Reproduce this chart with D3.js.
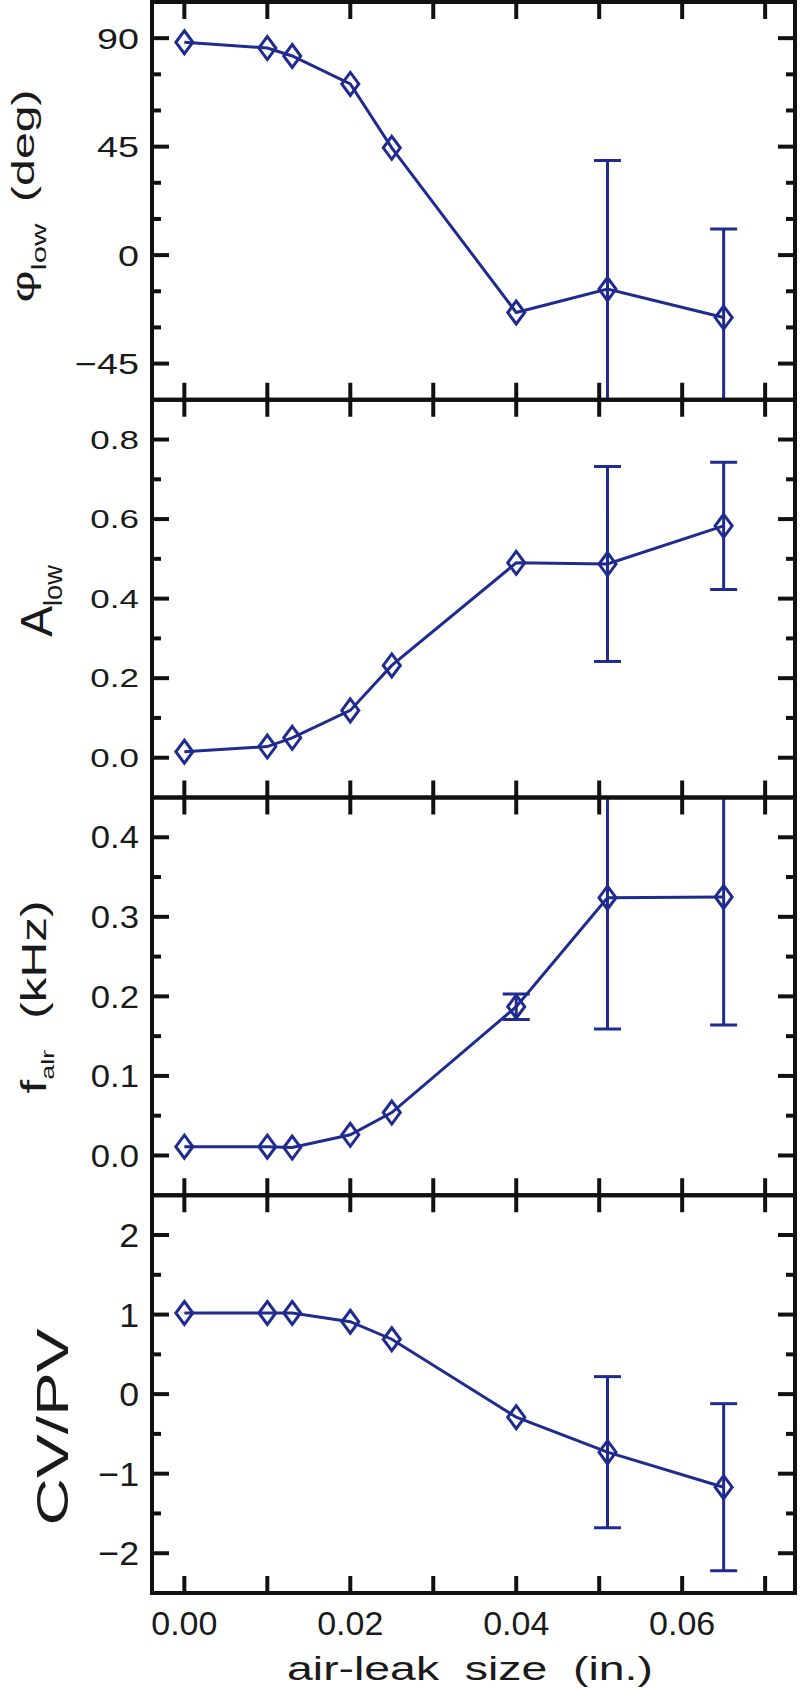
<!DOCTYPE html>
<html>
<head>
<meta charset="utf-8">
<script src="https://cdn.jsdelivr.net/npm/d3@7"></script>
<style>
	body { margin: 0; background: #fff; }
	svg { display: block; }
	text { font-family: "Liberation Sans", Arial, sans-serif; fill: #1a1a1a; }
</style>
</head>
<body>
<svg id="chart" width="800" height="1688"></svg>
<script>
const width = 800,
	height = 1688;

const plotLeft = 152,
	plotRight = 795,
	plotTop = 2,
	panelH = 397.75;

const navy = "#1f2b8f";

// air-leak size (in.)
const leakSize = [0, 0.010, 0.013, 0.020, 0.025, 0.040, 0.051, 0.065];

// phase of low-frequency component (deg)
const phiLow = [88.3, 85.9, 82.6, 71.0, 44.5, -23.8, -14.1, -25.9];
const phiLowErr = [null, null, null, null, null, null, 53.3, 36.7];

// amplitude of low-frequency component
const aLow = [0.015, 0.028, 0.050, 0.119, 0.232, 0.490, 0.487, 0.583];
const aLowErr = [null, null, null, null, null, null, 0.245, 0.160];

// f_alr (kHz)
const fAlr = [0.011, 0.011, 0.010, 0.026, 0.054, 0.187, 0.324, 0.325];
const fAlrErr = [null, null, null, null, null, 0.016, 0.165, 0.161];

// CV/PV
const cvPv = [1.02, 1.02, 1.02, 0.91, 0.69, -0.29, -0.73, -1.17];
const cvPvErr = [null, null, null, null, null, null, 0.95, 1.05];

const xTicks = [0, 0.01, 0.02, 0.03, 0.04, 0.05, 0.06, 0.07];
const xTickLabels = [0, 0.02, 0.04, 0.06];

const phiTicks = [-45, 0, 45, 90],
	phiMinor = [-30, -15, 15, 30, 60, 75];
const aTicks = [0, 0.2, 0.4, 0.6, 0.8],
	aMinor = [0.1, 0.3, 0.5, 0.7];
const fTicks = [0, 0.1, 0.2, 0.3, 0.4],
	fMinor = [0.05, 0.15, 0.25, 0.35];
const cvTicks = [-2, -1, 0, 1, 2],
	cvMinor = [-1.5, -0.5, 0.5, 1.5];

const panels = [
	{values: phiLow, errors: phiLowErr, domain: [-60, 105], ticks: phiTicks, minor: phiMinor, fmt: d3.format("d"),
		tickSize: 29, tickK: 1.3,
		title: [{t: "φ", size: 32}, {t: "low", size: 20, dy: 12}, {t: "(deg)", size: 31, dy: -12, dx: 14}],
		titleX: 34, titleY: 196, titleLen: 213},
	{values: aLow, errors: aLowErr, domain: [-0.1, 0.9], ticks: aTicks, minor: aMinor, fmt: d3.format(".1f"),
		tickSize: 25, tickK: 1.4,
		title: [{t: "A", size: 44}, {t: "low", size: 26, dy: 10}],
		titleX: 52, titleY: 601, titleLen: 72},
	{values: fAlr, errors: fAlrErr, domain: [-0.05, 0.45], ticks: fTicks, minor: fMinor, fmt: d3.format(".1f"),
		tickSize: 31, tickK: 1.12,
		title: [{t: "f", size: 35}, {t: "alr", size: 19, dy: 8}, {t: "(kHz)", size: 35, dy: -8, dx: 22}],
		titleX: 46, titleY: 997, titleLen: 193},
	{values: cvPv, errors: cvPvErr, domain: [-2.5, 2.5], ticks: cvTicks, minor: cvMinor, fmt: d3.format("d"),
		tickSize: 34, tickK: 1.05,
		title: [{t: "CV/PV", size: 45}],
		titleX: 68, titleY: 1427, titleLen: 197}
];

const xScale = d3.scaleLinear()
	.domain([-0.0039, 0.0736])
	.range([plotLeft, plotRight]);

const chart = d3.select("#chart");
const defs = chart.append("defs");

const diamond = "M0,-11.5L8.5,0L0,11.5L-8.5,0Z";

panels.forEach((p, i) => {
	const y0 = plotTop + i * panelH,
		y1 = y0 + panelH;

	const yScale = d3.scaleLinear()
		.domain(p.domain)
		.range([y1, y0]);

	const g = chart.append("g").attr("class", "panel");

	defs.append("clipPath")
		.attr("id", "clip" + i)
		.append("rect")
		.attr("x", plotLeft)
		.attr("y", y0)
		.attr("width", plotRight - plotLeft)
		.attr("height", panelH);

	const data = leakSize.map((x, j) => ({x: x, y: p.values[j], e: p.errors[j]}));

	const plot = g.append("g").attr("clip-path", `url(#clip${i})`);

	const line = d3.line()
		.x(d => xScale(d.x))
		.y(d => yScale(d.y));

	plot.append("path")
		.datum(data)
		.attr("fill", "none")
		.attr("stroke", navy)
		.attr("stroke-width", 3)
		.attr("d", line);

	const errs = data.filter(d => d.e != null);

	plot.selectAll("line.err")
		.data(errs)
		.join("line")
		.attr("class", "err")
		.attr("x1", d => xScale(d.x))
		.attr("x2", d => xScale(d.x))
		.attr("y1", d => yScale(d.y - d.e))
		.attr("y2", d => yScale(d.y + d.e))
		.attr("stroke", navy)
		.attr("stroke-width", 3);

	plot.selectAll("line.cap")
		.data(errs.flatMap(d => [d.y - d.e, d.y + d.e].map(v => ({x: d.x, v: v}))))
		.join("line")
		.attr("class", "cap")
		.attr("x1", d => xScale(d.x) - 13.5)
		.attr("x2", d => xScale(d.x) + 13.5)
		.attr("y1", d => yScale(d.v))
		.attr("y2", d => yScale(d.v))
		.attr("stroke", navy)
		.attr("stroke-width", 3);

	plot.selectAll("path.pt")
		.data(data)
		.join("path")
		.attr("class", "pt")
		.attr("transform", d => `translate(${xScale(d.x)},${yScale(d.y)})`)
		.attr("d", diamond)
		.attr("fill", "none")
		.attr("stroke", navy)
		.attr("stroke-width", 3);

	// inward ticks on all four sides
	const axisStyle = sel => sel.attr("stroke", "#111").attr("stroke-width", 4);

	g.selectAll("line.xt")
		.data(xTicks.flatMap(t => [{t: t, y: y0, d: 1}, {t: t, y: y1, d: -1}]))
		.join("line")
		.attr("class", "xt")
		.attr("x1", d => xScale(d.t))
		.attr("x2", d => xScale(d.t))
		.attr("y1", d => d.y)
		.attr("y2", d => d.y + d.d * 17)
		.call(axisStyle);

	const yt = p.ticks.map(t => ({t: t, len: 17})).concat(p.minor.map(t => ({t: t, len: 9})));

	g.selectAll("line.yl")
		.data(yt)
		.join("line")
		.attr("class", "yl")
		.attr("x1", plotLeft)
		.attr("x2", d => plotLeft + d.len)
		.attr("y1", d => yScale(d.t))
		.attr("y2", d => yScale(d.t))
		.call(axisStyle);

	g.selectAll("line.yr")
		.data(yt)
		.join("line")
		.attr("class", "yr")
		.attr("x1", plotRight)
		.attr("x2", d => plotRight - d.len)
		.attr("y1", d => yScale(d.t))
		.attr("y2", d => yScale(d.t))
		.call(axisStyle);

	g.append("rect")
		.attr("x", plotLeft)
		.attr("y", y0)
		.attr("width", plotRight - plotLeft)
		.attr("height", panelH)
		.attr("fill", "none")
		.call(axisStyle);

	g.selectAll("text.ytl")
		.data(p.ticks)
		.join("text")
		.attr("class", "ytl")
		.attr("transform", d => `translate(139,${yScale(d)}) scale(${p.tickK},1)`)
		.attr("dy", "0.36em")
		.attr("text-anchor", "end")
		.attr("font-size", p.tickSize)
		.text(d => p.fmt(d));

	// axis title, stretched to the measured length
	const title = g.append("text")
		.attr("text-anchor", "middle");

	p.title.forEach(s => {
		title.append("tspan")
			.attr("font-size", s.size)
			.attr("dy", s.dy || 0)
			.attr("dx", s.dx || 0)
			.text(s.t);
	});

	const len = title.node().getBBox().width;
	title.attr("transform", `translate(${p.titleX},${p.titleY}) rotate(-90) scale(${p.titleLen / len},1)`);

	if (i === panels.length - 1) {
		g.selectAll("text.xtl")
			.data(xTickLabels)
			.join("text")
			.attr("class", "xtl")
			.attr("x", d => xScale(d))
			.attr("y", 1635)
			.attr("text-anchor", "middle")
			.attr("font-size", 34)
			.text(d3.format(".2f"));

		const xt = g.append("text")
			.attr("text-anchor", "middle")
			.attr("font-size", 34)
			.style("white-space", "pre")
			.text("air-leak  size  (in.)");

		const xl = xt.node().getComputedTextLength();
		xt.attr("transform", `translate(470,1680) scale(${366 / xl},1)`);
	}
});
</script>
</body>
</html>
